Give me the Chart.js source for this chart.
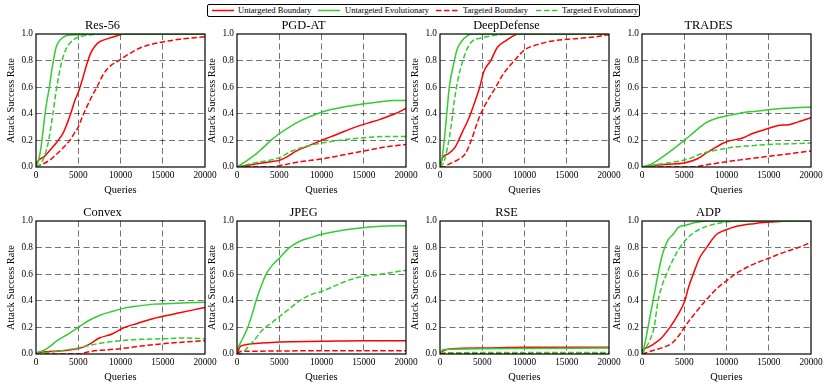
<!DOCTYPE html>
<html>
<head>
<meta charset="utf-8">
<script src="https://cdn.jsdelivr.net/npm/chart.js@4.4.1/dist/chart.umd.min.js"></script>
<style>
  html, body { margin: 0; padding: 0; background: #fff; }
  body { width: 830px; height: 388px; position: relative; overflow: hidden; font-family: "Liberation Serif", "DejaVu Serif", serif; }
  canvas.panel { position: absolute; }
  #legend { position: absolute; left: 207px; top: 4px; width: 431px; height: 11px; border: 1px solid #000; border-radius: 2px; background: #fff; z-index: 5; }
  #legend svg { position: absolute; top: 4px; }
  #legend span { position: absolute; top: 0; font-size: 8.5px; line-height: 11px; white-space: nowrap; color: #000; }
</style>
</head>
<body>
<div id="legend"></div>
<script>
// panel titles, series and axis ticks
const panelTitles = ['Res-56', 'PGD-AT', 'DeepDefense', 'TRADES', 'Convex', 'JPEG', 'RSE', 'ADP'];
const seriesNames = ['Untargeted Boundary', 'Untargeted Evolutionary', 'Targeted Boundary', 'Targeted Evolutionary'];
const xTicks = [0, 5000, 10000, 15000, 20000];
const yTicks = [0, 0.2, 0.4, 0.6, 0.8, 1.0];

// [queries, success rate]
const res56UB = [[0,0],[100,0.03],[300,0.05],[1000,0.08],[1700,0.13],[2500,0.19],[3250,0.26],[3700,0.33],[4200,0.42],[4600,0.5],[5000,0.56],[5500,0.66],[6000,0.77],[6500,0.86],[7000,0.91],[7500,0.94],[8500,0.965],[9500,0.985],[10500,1.0],[20000,1.0]];
const res56UE = [[0,0],[300,0.05],[600,0.15],[700,0.2],[1070,0.4],[1300,0.5],[1590,0.6],[1800,0.7],[2060,0.8],[2380,0.9],[2780,0.95],[3200,0.975],[3800,0.99],[5000,0.995],[7000,1.0],[20000,1.0]];
const res56TB = [[0,0],[700,0.02],[1600,0.05],[2500,0.1],[3300,0.15],[4000,0.2],[4600,0.26],[5000,0.3],[5500,0.38],[6000,0.45],[6600,0.53],[7200,0.6],[8000,0.7],[8800,0.76],[9800,0.8],[11000,0.85],[12500,0.9],[15000,0.94],[17000,0.96],[20000,0.98]];
const res56TE = [[0,0],[500,0.02],[1000,0.08],[1500,0.2],[2000,0.4],[2400,0.58],[2800,0.72],[3000,0.78],[3500,0.88],[4000,0.93],[4500,0.96],[5000,0.975],[6000,0.99],[8000,1.0],[20000,1.0]];

const pgdUB = [[0,0],[2000,0.02],[4000,0.04],[5000,0.05],[6000,0.08],[7000,0.12],[8500,0.16],[10000,0.2],[12000,0.25],[14000,0.3],[15500,0.33],[17000,0.36],[18700,0.4],[20000,0.44]];
const pgdUE = [[0,0],[1000,0.04],[2300,0.1],[3000,0.14],[4000,0.2],[5000,0.25],[6200,0.3],[7600,0.35],[9500,0.4],[11000,0.43],[12500,0.45],[14500,0.47],[17000,0.49],[18500,0.5],[20000,0.5]];
const pgdTB = [[0,0],[4000,0],[5000,0.01],[7500,0.04],[10000,0.06],[12500,0.09],[15000,0.12],[17500,0.15],[20000,0.17]];
const pgdTE = [[0,0],[2000,0.03],[5000,0.07],[6500,0.12],[8500,0.16],[10000,0.18],[12000,0.2],[15000,0.22],[18000,0.23],[20000,0.23]];

const ddUB = [[0,0],[300,0.07],[1000,0.1],[1800,0.15],[2200,0.2],[2700,0.27],[3300,0.35],[3900,0.45],[4700,0.6],[5200,0.72],[6000,0.8],[6800,0.9],[7800,0.95],[8800,0.99],[9300,1.0],[20000,1.0]];
const ddUE = [[0,0],[200,0.05],[500,0.2],[800,0.4],[1100,0.6],[1700,0.8],[2000,0.88],[2500,0.94],[3300,0.99],[3800,1.0],[20000,1.0]];
const ddTB = [[0,0],[500,0],[1000,0.02],[2000,0.05],[3000,0.1],[3700,0.2],[4500,0.35],[5200,0.45],[6600,0.6],[7500,0.7],[8800,0.8],[10000,0.88],[11500,0.92],[13500,0.95],[16000,0.965],[18500,0.98],[20000,0.995]];
const ddTE = [[0,0],[400,0.03],[900,0.15],[1300,0.3],[1700,0.5],[2100,0.65],[2700,0.8],[3300,0.9],[3900,0.95],[4900,0.97],[6500,0.99],[9000,1.0],[20000,1.0]];

const tradesUB = [[0,0],[1000,0.01],[3000,0.02],[5000,0.03],[6500,0.06],[7500,0.1],[8500,0.14],[10000,0.19],[12000,0.22],[13000,0.25],[14500,0.28],[16000,0.31],[17500,0.32],[19000,0.35],[20000,0.37]];
const tradesUE = [[0,0],[1000,0.02],[2300,0.07],[4000,0.15],[5000,0.2],[6300,0.27],[7500,0.33],[9000,0.37],[10500,0.39],[12000,0.41],[13500,0.42],[15000,0.43],[16500,0.44],[18000,0.445],[20000,0.45]];
const tradesTB = [[0,0],[6000,0],[8000,0.02],[10000,0.04],[12500,0.06],[15000,0.08],[17500,0.1],[20000,0.12]];
const tradesTE = [[0,0],[2000,0.02],[4000,0.04],[5500,0.06],[7000,0.1],[9000,0.13],[11000,0.15],[13000,0.16],[15000,0.17],[17500,0.175],[20000,0.18]];

const convexUB = [[0,0.01],[2000,0.02],[4000,0.03],[5500,0.05],[6500,0.08],[7500,0.12],[9000,0.15],[10500,0.2],[12000,0.23],[13500,0.26],[15500,0.29],[17000,0.31],[18500,0.33],[20000,0.35]];
const convexUE = [[0,0.01],[1000,0.03],[1500,0.05],[2500,0.1],[3800,0.15],[5000,0.2],[6200,0.25],[7500,0.29],[9000,0.32],[10500,0.345],[12000,0.36],[14000,0.375],[16000,0.38],[18000,0.385],[20000,0.39]];
const convexTB = [[0,0],[5000,0],[6500,0.02],[10000,0.04],[12500,0.06],[15500,0.08],[20000,0.1]];
const convexTE = [[0,0],[2500,0.02],[4500,0.04],[6000,0.06],[7500,0.08],[10000,0.1],[12500,0.11],[15000,0.115],[17500,0.12],[20000,0.115]];

const jpegUB = [[0,0],[150,0.02],[300,0.05],[700,0.065],[1500,0.075],[2500,0.08],[5000,0.09],[10000,0.095],[15000,0.1],[20000,0.1]];
const jpegUE = [[0,0.03],[300,0.07],[700,0.12],[1270,0.2],[1800,0.3],[2260,0.4],[2800,0.5],[3450,0.6],[4200,0.67],[5000,0.72],[6200,0.8],[7500,0.85],[8500,0.87],[10000,0.9],[11500,0.92],[13500,0.94],[15000,0.95],[17000,0.96],[20000,0.965]];
const jpegTB = [[0,0],[500,0.02],[20000,0.025]];
const jpegTE = [[0,0],[500,0.005],[1000,0.03],[1500,0.07],[2000,0.1],[3000,0.18],[4000,0.23],[5000,0.28],[6000,0.33],[7400,0.4],[8500,0.44],[10000,0.47],[11500,0.51],[13000,0.55],[15000,0.585],[17000,0.6],[20000,0.63]];

const rseUB = [[0,0],[300,0.02],[1500,0.04],[5000,0.045],[10000,0.05],[20000,0.05]];
const rseUE = [[0,0],[300,0.03],[1000,0.035],[5000,0.04],[20000,0.045]];
const rseTB = [[0,0.005],[20000,0.008]];
const rseTE = [[0,0.01],[20000,0.012]];

const adpUB = [[0,0.01],[100,0.03],[700,0.05],[1500,0.08],[2300,0.12],[3300,0.2],[4300,0.3],[5070,0.4],[5500,0.5],[6060,0.6],[6800,0.72],[7640,0.8],[8830,0.9],[9820,0.93],[11200,0.96],[13200,0.98],[14800,0.99],[18000,1.0],[20000,1.0]];
const adpUE = [[0,0],[240,0.05],[710,0.2],[1000,0.3],[1310,0.4],[1900,0.6],[2300,0.72],[2690,0.8],[3100,0.86],[3700,0.9],[4270,0.95],[5270,0.97],[6450,0.99],[8000,1.0],[20000,1.0]];
const adpTB = [[0,0],[1000,0.02],[2500,0.05],[3500,0.08],[4500,0.15],[5000,0.2],[6200,0.3],[7500,0.4],[9000,0.5],[10000,0.55],[11000,0.6],[13000,0.67],[15000,0.72],[17000,0.77],[18500,0.8],[20000,0.84]];
const adpTE = [[0,0],[900,0.1],[1430,0.2],[1900,0.4],[2400,0.52],[2900,0.6],[3600,0.7],[4480,0.8],[5070,0.85],[5860,0.9],[7250,0.95],[8830,0.98],[12000,1.0],[20000,1.0]];

const panelSeries = [
  [res56UB, res56UE, res56TB, res56TE],
  [pgdUB, pgdUE, pgdTB, pgdTE],
  [ddUB, ddUE, ddTB, ddTE],
  [tradesUB, tradesUE, tradesTB, tradesTE],
  [convexUB, convexUE, convexTB, convexTE],
  [jpegUB, jpegUE, jpegTB, jpegTE],
  [rseUB, rseUE, rseTB, rseTE],
  [adpUB, adpUE, adpTB, adpTE]
];

// look
const RED = '#ff0000', GREEN = '#33cc33';
const seriesColors = [RED, GREEN, RED, GREEN];
const seriesDashes = [[], [], [5.5, 2.5], [5.5, 2.5]];
const FONT = '"Liberation Serif", "DejaVu Serif", serif';

// layout (page pixels)
const colLefts = [36, 237, 440, 642];
const rowTops = [34, 221];
const PLOT_W = 169, PLOT_H = 133;
const AXIS_W = 36, TITLE_H = 34, XAXIS_H = 36;

Chart.defaults.font.family = FONT;
Chart.defaults.color = '#000';

const framePlugin = {
  id: 'frame',
  afterDatasetsDraw(chart) {
    const { ctx, chartArea: a } = chart;
    ctx.save();
    ctx.strokeStyle = '#000';
    ctx.lineWidth = 1.2;
    ctx.strokeRect(a.left, a.top, a.right - a.left, a.bottom - a.top);
    ctx.restore();
  }
};

function gridColor(max) {
  return ctx => (ctx.tick && (ctx.tick.value === 0 || ctx.tick.value === max)) ? 'rgba(0,0,0,0)' : 'rgba(0,0,0,0.55)';
}

function makePanel(i) {
  const col = i % 4, row = Math.floor(i / 4);
  const canvas = document.createElement('canvas');
  canvas.className = 'panel';
  canvas.width = AXIS_W + PLOT_W + AXIS_W;
  canvas.height = TITLE_H + PLOT_H + XAXIS_H;
  canvas.style.left = (colLefts[col] - AXIS_W) + 'px';
  canvas.style.top = (rowTops[row] - TITLE_H) + 'px';
  document.body.appendChild(canvas);

  const datasets = panelSeries[i].map((pts, k) => ({
    label: seriesNames[k],
    data: pts.map(([x, y]) => ({ x, y })),
    borderColor: seriesColors[k],
    borderWidth: 1.5,
    borderDash: seriesDashes[k],
    pointRadius: 0,
    fill: false,
    cubicInterpolationMode: 'monotone',
    order: 3 - k
  }));

  return new Chart(canvas, {
    type: 'line',
    data: { datasets },
    options: {
      responsive: false,
      animation: false,
      events: [],
      layout: { padding: { left: 0, right: AXIS_W, top: 0, bottom: 0 } },
      plugins: {
        legend: { display: false },
        tooltip: { enabled: false },
        title: {
          display: true,
          text: panelTitles[i],
          color: '#000',
          font: { family: FONT, size: 12.4, weight: 'normal', lineHeight: 1.2 },
          padding: { top: TITLE_H - 14.88 - 0.6, bottom: 0.6 }
        }
      },
      scales: {
        x: {
          type: 'linear',
          min: 0,
          max: 20000,
          afterBuildTicks: s => { s.ticks = xTicks.map(v => ({ value: v })); },
          afterFit: s => { s.height = XAXIS_H; s.paddingLeft = 0; s.paddingRight = 0; },
          ticks: { font: { size: 9.3 }, padding: 3, maxRotation: 0, callback: v => String(v) },
          grid: { color: gridColor(20000), lineWidth: 1, drawTicks: false },
          border: { display: false, dash: [6, 3.5] },
          title: { display: true, text: 'Queries', font: { size: 10.4 }, padding: { top: 0, bottom: 6.8 } }
        },
        y: {
          min: 0,
          max: 1,
          afterBuildTicks: s => { s.ticks = yTicks.map(v => ({ value: v })); },
          afterFit: s => { s.width = AXIS_W; s.paddingTop = 0; s.paddingBottom = 0; },
          ticks: { font: { size: 9.3 }, padding: 3, callback: v => v.toFixed(1) },
          grid: { color: gridColor(1), lineWidth: 1, drawTicks: false },
          border: { display: false, dash: [6, 3.5] },
          title: { display: true, text: 'Attack Success Rate', font: { size: 10.4 }, padding: { top: 4.8, bottom: 0 } }
        }
      }
    },
    plugins: [framePlugin]
  });
}

function buildLegend() {
  const box = document.getElementById('legend');
  const keyLefts = [4, 110, 228, 328];
  const textLefts = [30, 137, 255, 354];
  seriesNames.forEach((name, k) => {
    const svgNS = 'http://www.w3.org/2000/svg';
    const svg = document.createElementNS(svgNS, 'svg');
    svg.setAttribute('width', '22');
    svg.setAttribute('height', '3');
    svg.style.left = keyLefts[k] + 'px';
    const line = document.createElementNS(svgNS, 'line');
    line.setAttribute('x1', '0'); line.setAttribute('y1', '1.5');
    line.setAttribute('x2', '22'); line.setAttribute('y2', '1.5');
    line.setAttribute('stroke', seriesColors[k]);
    line.setAttribute('stroke-width', '1.5');
    if (seriesDashes[k].length) line.setAttribute('stroke-dasharray', seriesDashes[k].join(' '));
    svg.appendChild(line);
    box.appendChild(svg);

    const span = document.createElement('span');
    span.textContent = name;
    span.style.left = textLefts[k] + 'px';
    box.appendChild(span);
  });
}

buildLegend();
panelTitles.forEach((_, i) => makePanel(i));
</script>
</body>
</html>
